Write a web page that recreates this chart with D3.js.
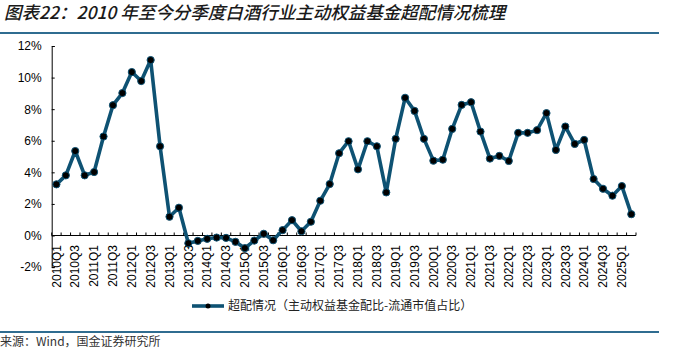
<!DOCTYPE html>
<html>
<head>
<meta charset="utf-8">
<script src="https://cdn.jsdelivr.net/npm/d3@7/dist/d3.min.js"></script>
<style>
  html, body { margin: 0; padding: 0; background: #fff; }
  svg { display: block; }
</style>
</head>
<body>
<svg id="chart" width="674" height="348"></svg>
<script>
// Quarterly categories 2010Q1 – 2025Q2
const years = d3.range(2010, 2026);
const quarters = years.flatMap(y => [1, 2, 3, 4].map(q => `${y}Q${q}`)).slice(0, 62);

// Over-allocation (active equity fund weight minus free-float market cap weight), %
const overweight = [
  3.24, 3.81, 5.35, 3.81, 4.02, 6.27, 8.25, 9.02, 10.35, 9.78, 11.11, 5.65,
  1.19, 1.76, -0.49, -0.34, -0.21, -0.13, -0.15, -0.40, -0.80, -0.32, 0.11, -0.30,
  0.34, 0.97, 0.27, 0.87, 2.20, 3.26, 5.21, 5.97, 4.19, 5.97, 5.65, 2.73,
  6.12, 8.72, 7.89, 6.12, 4.74, 4.80, 6.75, 8.27, 8.44, 6.58, 4.87, 5.04,
  4.72, 6.50, 6.50, 6.67, 7.75, 5.42, 6.90, 5.80, 6.05, 3.58, 2.96, 2.52,
  3.13, 1.35
];

const yTicks = [-2, 0, 2, 4, 6, 8, 10, 12];
const seriesName = "超配情况（主动权益基金配比-流通市值占比）";
const titleText = "图表22：2010 年至今分季度白酒行业主动权益基金超配情况梳理";
const sourceText = "来源：Wind，国金证券研究所";

const lineColor = "#0e5273";
const ruleColor = "#2f6c90";
const latin = "'Liberation Sans', Arial, sans-serif";
const cjk = "'Noto Sans CJK SC', 'Noto Sans', sans-serif";

const svg = d3.select("#chart");

const x = d3.scaleBand().domain(quarters).range([51.7, 636]).padding(0);
const y = d3.scaleLinear().domain([-2, 12]).range([267.1, 46]);

// Title and rules
svg.append("text")
  .attr("x", 4).attr("y", 19)
  .attr("font-family", cjk).attr("font-size", 17.5).attr("font-style", "italic")
  .attr("font-weight", 500).attr("fill", "#1a1a1a")
  .text(titleText);

svg.append("line")
  .attr("x1", 0).attr("x2", 659).attr("y1", 33).attr("y2", 33)
  .attr("stroke", ruleColor).attr("stroke-width", 2);

svg.append("line")
  .attr("x1", 0).attr("x2", 659).attr("y1", 332).attr("y2", 332)
  .attr("stroke", ruleColor).attr("stroke-width", 2);

svg.append("text")
  .attr("x", 0).attr("y", 346)
  .attr("font-family", cjk).attr("font-size", 12).attr("fill", "#333")
  .text(sourceText);

// Y axis
const yAxis = d3.axisLeft(y).tickValues(yTicks).tickSize(-3).tickPadding(10)
  .tickFormat(d => d + "%");
const gy = svg.append("g").attr("transform", "translate(51.7,0)").call(yAxis);
gy.select(".domain").attr("stroke", "#000").attr("stroke-width", 1);
gy.selectAll(".tick line").attr("stroke", "#000");
gy.selectAll(".tick text").attr("font-family", latin).attr("font-size", 12).attr("fill", "#000");

// X axis along the zero line, ticks on band boundaries
const y0 = y(0);
const gx = svg.append("g");
gx.append("line")
  .attr("x1", x.range()[0]).attr("x2", x.range()[1])
  .attr("y1", y0).attr("y2", y0)
  .attr("stroke", "#000").attr("stroke-width", 1);
const bounds = quarters.map(q => x(q)).concat([x.range()[1]]);
gx.selectAll("line.tk").data(bounds).join("line")
  .attr("class", "tk")
  .attr("x1", d => d).attr("x2", d => d)
  .attr("y1", y0).attr("y2", y0 - 3)
  .attr("stroke", "#000");
gx.selectAll("text").data(quarters.filter((q, i) => i % 2 === 0)).join("text")
  .attr("transform", d => `translate(${x(d) + x.bandwidth() / 2},${y0 + 9.5}) rotate(-90)`)
  .attr("text-anchor", "end").attr("dy", "0.35em")
  .attr("font-family", latin).attr("font-size", 12).attr("fill", "#000")
  .text(d => d);

// Series line and markers
const cx = (d, i) => x(quarters[i]) + x.bandwidth() / 2;
const line = d3.line().x(cx).y(d => y(d));
svg.append("path").datum(overweight)
  .attr("d", line).attr("fill", "none")
  .attr("stroke", lineColor).attr("stroke-width", 3.6)
  .attr("stroke-linejoin", "round");
svg.selectAll("circle.pt").data(overweight).join("circle")
  .attr("class", "pt")
  .attr("cx", cx).attr("cy", d => y(d)).attr("r", 3.6)
  .attr("fill", "#000").attr("stroke", lineColor).attr("stroke-width", 1);

// Legend
const lg = svg.append("g").attr("transform", "translate(192,306)");
lg.append("line").attr("x1", 0).attr("x2", 32).attr("y1", 0).attr("y2", 0)
  .attr("stroke", lineColor).attr("stroke-width", 3.6);
lg.append("circle").attr("cx", 16).attr("cy", 0).attr("r", 2.5).attr("fill", "#000");
lg.append("text").attr("x", 36).attr("y", 0).attr("dy", "0.35em")
  .attr("font-family", cjk).attr("font-size", 12).attr("fill", "#222")
  .text(seriesName);
</script>
</body>
</html>
